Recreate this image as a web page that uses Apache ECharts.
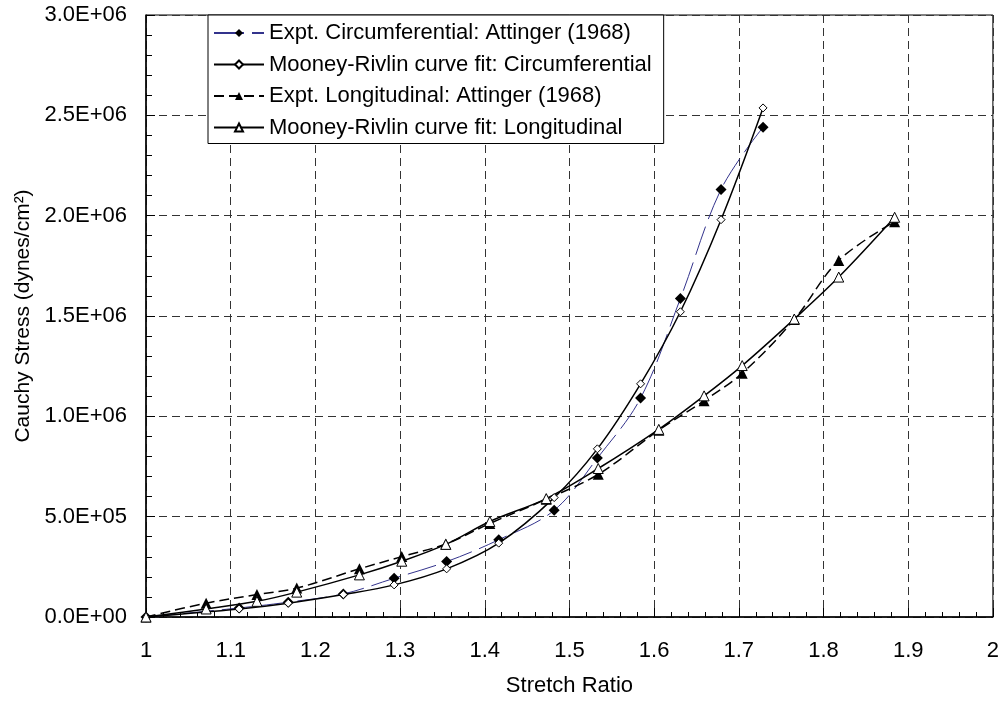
<!DOCTYPE html>
<html>
<head>
<meta charset="utf-8">
<script src="https://cdn.jsdelivr.net/npm/echarts@6/dist/echarts.min.js"></script>
<style>
html,body{margin:0;padding:0;background:#fff;}
#chart{width:1002px;height:702px;}
</style>
</head>
<body>
<div id="chart"></div>
<script>
// ---- data ----
const stretchCirc = [1, 1.11, 1.168, 1.233, 1.293, 1.355, 1.4165, 1.482, 1.533, 1.584, 1.631, 1.679, 1.7286];
const exptCirc    = [0, 45000, 74000, 115000, 193000, 276000, 385000, 532000, 792000, 1091000, 1587000, 2131000, 2441000];
const fitCirc     = [0, 40000, 69000, 112000, 160000, 240000, 368000, 595000, 838000, 1162000, 1521000, 1980000, 2537000];
const stretchLong = [1, 1.071, 1.131, 1.178, 1.252, 1.302, 1.354, 1.406, 1.4726, 1.534, 1.6055, 1.659, 1.704, 1.7655, 1.818, 1.884];
const exptLong    = [0, 69000, 112000, 144000, 240000, 301000, 364000, 466000, 587000, 711000, 931000, 1078000, 1215000, 1483000, 1777000, 1970000];
const fitLong     = [0, 40000, 78000, 124000, 210000, 278000, 362000, 476000, 590000, 740000, 935000, 1102000, 1253000, 1485000, 1694000, 1992000];
const seriesNames = [
  'Expt. Circumferential: Attinger (1968)',
  'Mooney-Rivlin curve fit: Circumferential',
  'Expt. Longitudinal: Attinger (1968)',
  'Mooney-Rivlin curve fit: Longitudinal'
];
const xTickLabels = ['1','1.1','1.2','1.3','1.4','1.5','1.6','1.7','1.8','1.9','2'];
const yTickLabels = ['0.0E+00','5.0E+05','1.0E+06','1.5E+06','2.0E+06','2.5E+06','3.0E+06'];
const xAxisTitle = 'Stretch Ratio';
const yAxisTitle = 'Cauchy Stress (dynes/cm²)';

function zip(xs, ys){ return xs.map((x,i)=>[x, ys[i]]); }

const FONT = 'Arial, "Liberation Sans", sans-serif';
const chart = echarts.init(document.getElementById('chart'), null, {renderer:'canvas'});

const openMarker = {color:'#fff', borderColor:'#000', borderWidth:1};
const option = {
  animation:false,
  backgroundColor:'#fff',
  grid:{left:146, right:6, top:15, bottom:82, show:true, borderColor:'#000', borderWidth:1, backgroundColor:'transparent'},
  legend:{
    orient:'vertical', left:208, top:15,
    backgroundColor:'#fff', borderColor:'#000', borderWidth:1, borderRadius:0,
    padding:[7,12,5,5], itemGap:9.5, itemWidth:50, itemHeight:10,
    textStyle:{fontFamily:FONT, fontSize:22, color:'#000'},
    data:seriesNames
  },
  xAxis:{
    type:'value', min:1, max:2, interval:0.1,
    name:xAxisTitle, nameLocation:'middle', nameGap:58,
    nameTextStyle:{fontFamily:FONT, fontSize:22, color:'#000'},
    axisLine:{show:true, onZero:false, lineStyle:{color:'#000', width:1.5}},
    axisTick:{show:true, inside:true, length:9, lineStyle:{color:'#000', width:1}},
    minorTick:{show:true, splitNumber:5, length:5, lineStyle:{color:'#000', width:1}},
    axisLabel:{margin:23, fontFamily:FONT, fontSize:22, color:'#000',
      formatter:(v)=>xTickLabels[Math.round((v-1)*10)]},
    splitLine:{show:true, lineStyle:{color:'#333', width:1, type:[8,5]}}
  },
  yAxis:{
    type:'value', min:0, max:3000000, interval:500000,
    name:yAxisTitle, nameLocation:'middle', nameGap:111, nameRotate:90,
    nameTextStyle:{fontFamily:FONT, fontSize:21, color:'#000'},
    axisLine:{show:true, onZero:false, lineStyle:{color:'#000', width:1.5}},
    axisTick:{show:true, inside:true, length:9, lineStyle:{color:'#000', width:1}},
    minorTick:{show:true, splitNumber:5, length:6, lineStyle:{color:'#000', width:1}},
    axisLabel:{margin:19, fontFamily:FONT, fontSize:22, color:'#000',
      formatter:(v)=>yTickLabels[Math.round(v/500000)]},
    splitLine:{show:true, lineStyle:{color:'#333', width:1, type:[8,5]}}
  },
  series:[
    {name:seriesNames[0], type:'line', data:zip(stretchCirc, exptCirc), smooth:0.35,
     symbol:'diamond', symbolSize:11, showAllSymbol:true,
     lineStyle:{color:'#33338c', width:1, type:[30,8]},
     itemStyle:{color:'#000', borderColor:'#000', borderWidth:0}},
    {name:seriesNames[1], type:'line', data:zip(stretchCirc, fitCirc), smooth:0.35,
     symbol:'diamond', symbolSize:8, showAllSymbol:true,
     lineStyle:{color:'#000', width:1.5, type:'solid'},
     itemStyle:openMarker},
    {name:seriesNames[2], type:'line', data:zip(stretchLong, exptLong), smooth:0.35,
     symbol:'triangle', symbolSize:11, showAllSymbol:true,
     lineStyle:{color:'#000', width:1.5, type:[10,5]},
     itemStyle:{color:'#000', borderColor:'#000', borderWidth:0}},
    {name:seriesNames[3], type:'line', data:zip(stretchLong, fitLong), smooth:0.35,
     symbol:'triangle', symbolSize:10, showAllSymbol:true,
     lineStyle:{color:'#000', width:1.5, type:'solid'},
     itemStyle:openMarker}
  ]
};
chart.setOption(option);
</script>
</body>
</html>
